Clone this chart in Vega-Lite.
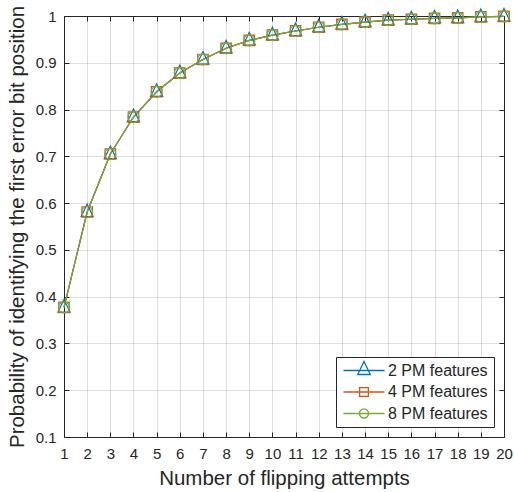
{
  "$schema": "https://vega.github.io/schema/vega-lite/v6.json",
  "width": 440,
  "height": 421,
  "autosize": "none",
  "padding": {"left": 64, "top": 16, "right": 10, "bottom": 55},
  "config": {
    "view": {"stroke": "#262626", "strokeWidth": 1},
    "font": "Liberation Sans",
    "axis": {
      "labelFont": "Liberation Sans",
      "titleFont": "Liberation Sans",
      "labelColor": "#262626",
      "titleColor": "#262626",
      "tickColor": "#262626",
      "gridColor": "#262626",
      "gridOpacity": 0.15,
      "domain": false,
      "labelFontSize": 15,
      "titleFontSize": 20.5,
      "titleFontWeight": "normal",
      "tickSize": -5,
      "labelOverlap": false,
      "labelFlush": false
    },
    "legend": {
      "labelFont": "Liberation Sans",
      "labelFontSize": 16,
      "labelColor": "#262626"
    }
  },
  "data": {
    "values": [
      {"attempts": 1, "prob": 0.377, "series": "2 PM features"},
      {"attempts": 2, "prob": 0.581, "series": "2 PM features"},
      {"attempts": 3, "prob": 0.705, "series": "2 PM features"},
      {"attempts": 4, "prob": 0.784, "series": "2 PM features"},
      {"attempts": 5, "prob": 0.838, "series": "2 PM features"},
      {"attempts": 6, "prob": 0.878, "series": "2 PM features"},
      {"attempts": 7, "prob": 0.907, "series": "2 PM features"},
      {"attempts": 8, "prob": 0.931, "series": "2 PM features"},
      {"attempts": 9, "prob": 0.948, "series": "2 PM features"},
      {"attempts": 10, "prob": 0.959, "series": "2 PM features"},
      {"attempts": 11, "prob": 0.968, "series": "2 PM features"},
      {"attempts": 12, "prob": 0.976, "series": "2 PM features"},
      {"attempts": 13, "prob": 0.982, "series": "2 PM features"},
      {"attempts": 14, "prob": 0.987, "series": "2 PM features"},
      {"attempts": 15, "prob": 0.991, "series": "2 PM features"},
      {"attempts": 16, "prob": 0.993, "series": "2 PM features"},
      {"attempts": 17, "prob": 0.995, "series": "2 PM features"},
      {"attempts": 18, "prob": 0.996, "series": "2 PM features"},
      {"attempts": 19, "prob": 0.998, "series": "2 PM features"},
      {"attempts": 20, "prob": 0.999, "series": "2 PM features"},
      {"attempts": 1, "prob": 0.377, "series": "4 PM features"},
      {"attempts": 2, "prob": 0.581, "series": "4 PM features"},
      {"attempts": 3, "prob": 0.705, "series": "4 PM features"},
      {"attempts": 4, "prob": 0.784, "series": "4 PM features"},
      {"attempts": 5, "prob": 0.838, "series": "4 PM features"},
      {"attempts": 6, "prob": 0.878, "series": "4 PM features"},
      {"attempts": 7, "prob": 0.907, "series": "4 PM features"},
      {"attempts": 8, "prob": 0.931, "series": "4 PM features"},
      {"attempts": 9, "prob": 0.948, "series": "4 PM features"},
      {"attempts": 10, "prob": 0.959, "series": "4 PM features"},
      {"attempts": 11, "prob": 0.968, "series": "4 PM features"},
      {"attempts": 12, "prob": 0.976, "series": "4 PM features"},
      {"attempts": 13, "prob": 0.982, "series": "4 PM features"},
      {"attempts": 14, "prob": 0.987, "series": "4 PM features"},
      {"attempts": 15, "prob": 0.991, "series": "4 PM features"},
      {"attempts": 16, "prob": 0.993, "series": "4 PM features"},
      {"attempts": 17, "prob": 0.995, "series": "4 PM features"},
      {"attempts": 18, "prob": 0.996, "series": "4 PM features"},
      {"attempts": 19, "prob": 0.998, "series": "4 PM features"},
      {"attempts": 20, "prob": 0.999, "series": "4 PM features"},
      {"attempts": 1, "prob": 0.377, "series": "8 PM features"},
      {"attempts": 2, "prob": 0.581, "series": "8 PM features"},
      {"attempts": 3, "prob": 0.705, "series": "8 PM features"},
      {"attempts": 4, "prob": 0.784, "series": "8 PM features"},
      {"attempts": 5, "prob": 0.838, "series": "8 PM features"},
      {"attempts": 6, "prob": 0.878, "series": "8 PM features"},
      {"attempts": 7, "prob": 0.907, "series": "8 PM features"},
      {"attempts": 8, "prob": 0.931, "series": "8 PM features"},
      {"attempts": 9, "prob": 0.948, "series": "8 PM features"},
      {"attempts": 10, "prob": 0.959, "series": "8 PM features"},
      {"attempts": 11, "prob": 0.968, "series": "8 PM features"},
      {"attempts": 12, "prob": 0.976, "series": "8 PM features"},
      {"attempts": 13, "prob": 0.982, "series": "8 PM features"},
      {"attempts": 14, "prob": 0.987, "series": "8 PM features"},
      {"attempts": 15, "prob": 0.991, "series": "8 PM features"},
      {"attempts": 16, "prob": 0.993, "series": "8 PM features"},
      {"attempts": 17, "prob": 0.995, "series": "8 PM features"},
      {"attempts": 18, "prob": 0.996, "series": "8 PM features"},
      {"attempts": 19, "prob": 0.998, "series": "8 PM features"},
      {"attempts": 20, "prob": 0.999, "series": "8 PM features"}
    ]
  },
  "layer": [
    {
      "mark": {"type": "line", "strokeWidth": 1.2},
      "encoding": {
        "x": {
          "field": "attempts", "type": "quantitative",
          "scale": {"domain": [1, 20], "nice": false, "zero": false},
          "axis": {
            "orient": "bottom",
            "values": [1,2,3,4,5,6,7,8,9,10,11,12,13,14,15,16,17,18,19,20],
            "title": "Number of flipping attempts",
            "labelPadding": 14,
            "titlePadding": 7,
            "grid": true
          }
        },
        "y": {
          "field": "prob", "type": "quantitative",
          "scale": {"domain": [0.1, 1], "nice": false, "zero": false},
          "axis": {
            "orient": "left",
            "values": [0.1,0.2,0.3,0.4,0.5,0.6,0.7,0.8,0.9,1],
            "format": ".1~f",
            "title": "Probability of identifying the first error bit position",
            "labelPadding": 13,
            "titlePadding": 8,
            "grid": true
          }
        },
        "stroke": {
          "field": "series", "type": "nominal",
          "scale": {"range": ["#0072BD", "#D95319", "#77AC30"]}
        }
      }
    },
    {
      "transform": [{"filter": {"field": "series", "equal": "2 PM features"}}],
      "mark": {"type": "point", "filled": false, "opacity": 1, "size": 121, "strokeWidth": 1.2, "shape": "M0,-1.45L1.1,0.85L-1.1,0.85Z"},
      "encoding": {
        "x": {"field": "attempts", "type": "quantitative", "axis": null},
        "y": {"field": "prob", "type": "quantitative", "axis": null},
        "stroke": {"field": "series", "type": "nominal"}
      }
    },
    {
      "transform": [{"filter": {"field": "series", "equal": "4 PM features"}}],
      "mark": {"type": "point", "filled": false, "opacity": 1, "size": 110, "strokeWidth": 1.2, "shape": "square"},
      "encoding": {
        "x": {"field": "attempts", "type": "quantitative", "axis": null},
        "y": {"field": "prob", "type": "quantitative", "axis": null},
        "stroke": {"field": "series", "type": "nominal"}
      }
    },
    {
      "transform": [{"filter": {"field": "series", "equal": "8 PM features"}}],
      "mark": {"type": "point", "filled": false, "opacity": 1, "size": 121, "strokeWidth": 1.2, "shape": "circle"},
      "encoding": {
        "x": {"field": "attempts", "type": "quantitative", "axis": null},
        "y": {"field": "prob", "type": "quantitative", "axis": null},
        "stroke": {"field": "series", "type": "nominal"}
      }
    },
    {
      "mark": {"type": "point", "filled": false, "opacity": 0},
      "encoding": {
        "x": {
          "field": "attempts", "type": "quantitative",
          "axis": {
            "orient": "top",
            "values": [1,2,3,4,5,6,7,8,9,10,11,12,13,14,15,16,17,18,19,20],
            "labels": false, "grid": false, "title": null
          }
        },
        "y": {
          "field": "prob", "type": "quantitative",
          "axis": {
            "orient": "right",
            "values": [0.1,0.2,0.3,0.4,0.5,0.6,0.7,0.8,0.9,1],
            "labels": false, "grid": false, "title": null
          }
        },
        "stroke": {
          "field": "series", "type": "nominal",
          "scale": {"domain": ["2 PM features", "4 PM features", "8 PM features"]}
        },
        "shape": {
          "field": "series", "type": "nominal",
          "scale": {
            "domain": ["2 PM features", "4 PM features", "8 PM features"],
            "range": [
              "M-3.42,0L3.42,0M0,-1.5L1.05,0.67L-1.05,0.67Z",
              "M-3.42,0L3.42,0M-0.73,-0.73L0.73,-0.73L0.73,0.73L-0.73,0.73Z",
              "M-3.42,0L3.42,0M0.76,0A0.76,0.76,0,1,1,-0.76,0A0.76,0.76,0,1,1,0.76,0"
            ]
          },
          "legend": {
            "title": null,
            "orient": "bottom-right",
            "offset": 10,
            "strokeColor": "#262626",
            "fillColor": "white",
            "padding": 5.5,
            "symbolSize": 144,
            "symbolOffset": 14.5,
            "symbolStrokeWidth": 1.3,
            "symbolOpacity": 1,
            "symbolFillColor": "transparent",
            "labelOffset": 16,
            "rowPadding": 5.5
          }
        }
      }
    }
  ],
  "resolve": {"axis": {"x": "independent", "y": "independent"}}
}
